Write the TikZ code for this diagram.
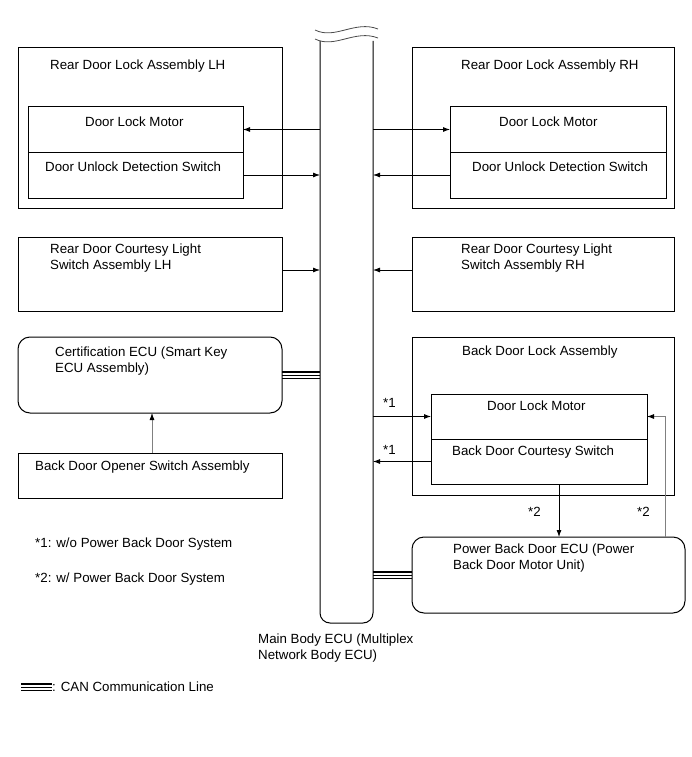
\documentclass[tikz,border=0pt]{standalone}
\usepackage{fontspec}
\setmainfont{Liberation Sans}
\usetikzlibrary{arrows.meta,calc}
\newcommand\mycan[2]{%
  \draw[line width=2.2pt,transform canvas={yshift=3.3pt}] #1 -- #2;
  \draw[line width=1pt] #1 -- #2;
  \draw[line width=1.4pt,transform canvas={yshift=-3.3pt}] #1 -- #2;}
\begin{document}
\begin{tikzpicture}[x=1pt,y=-1pt,
  box/.style={draw, line width=1pt, anchor=north west, inner sep=0pt, outer sep=0pt},
  rbox/.style={box, rounded corners=12pt},
  lbl/.style={anchor=west, inner sep=0pt, font=\fontsize{13.3}{16}\selectfont, align=left},
  arr/.style={line width=0.8pt, -{Latex[length=7pt,width=5pt]}},
  garr/.style={line width=0.8pt, draw=black!50, -{Latex[length=7pt,width=5pt,color=black]}}]
\useasboundingbox (0,0) rectangle (691,757);

% main bus
\node[inner sep=0pt, outer sep=0pt, minimum width=53pt, minimum height=581pt, anchor=north west] (bus) at (320,42) {};
\draw[line width=1pt, rounded corners=10pt] (320,41) -- (320,623) -- (373,623) -- (373,41);
\draw[line width=0.8pt, black!70] (315,30) .. controls (335,40) and (355,20) .. (378,29);
\draw[line width=0.8pt, black!70] (315,39) .. controls (335,49) and (355,29) .. (378,38);
\node[lbl] (busl) at (258,648) {Main Body ECU (Multiplex\\Network Body ECU)};

% rear door lock LH
\node[box, minimum width=264pt, minimum height=160pt] (rlh) at (18,48) {};
\node[lbl] (rlht) at (50,66) {Rear Door Lock Assembly LH};
\node[box, minimum width=215pt, minimum height=45pt] (lhm) at (28,107) {};
\node[box, minimum width=215pt, minimum height=46pt] (lhs) at (28,152) {};
\node[lbl] (lhmt) at (85,122) {Door Lock Motor};
\node[lbl] (lhst) at (45,167) {Door Unlock Detection Switch};
\draw[arr] (bus.west |- lhm.east) -- (lhm.east);
\draw[arr] (lhs.east) -- (bus.west |- lhs.east);

% rear door lock RH
\node[box, minimum width=262pt, minimum height=160pt] (rrh) at (412,48) {};
\node[lbl] (rrht) at (461,66) {Rear Door Lock Assembly RH};
\node[box, minimum width=216pt, minimum height=45pt] (rhm) at (450,107) {};
\node[box, minimum width=216pt, minimum height=46pt] (rhs) at (450,152) {};
\node[lbl] (rhmt) at (499,122) {Door Lock Motor};
\node[lbl] (rhst) at (472,167) {Door Unlock Detection Switch};
\draw[arr] (bus.east |- rhm.west) -- (rhm.west);
\draw[arr] (rhs.west) -- (bus.east |- rhs.west);

% courtesy light switches
\node[box, minimum width=264pt, minimum height=74pt] (lcl) at (18,237) {};
\node[lbl] (lclt) at (50,258) {Rear Door Courtesy Light\\Switch Assembly LH};
\node[box, minimum width=262pt, minimum height=74pt] (rcl) at (412,237) {};
\node[lbl] (rclt) at (461,258) {Rear Door Courtesy Light\\Switch Assembly RH};
\coordinate (lclp) at (282,270);
\coordinate (rclp) at (412,270);
\draw[arr] (lclp) -- (bus.west |- lclp);
\draw[arr] (rclp) -- (bus.east |- rclp);

% certification ECU
\node[rbox, minimum width=264pt, minimum height=76pt] (cert) at (18,337) {};
\node[lbl] (certt) at (55,361) {Certification ECU (Smart Key\\ECU Assembly)};
\mycan{(cert.east)}{(bus.west |- cert.east)}

% back door opener
\node[box, minimum width=264pt, minimum height=45pt] (open) at (18,453) {};
\node[lbl] (opent) at (35,467) {Back Door Opener Switch Assembly};
\coordinate (openp) at (152,453);
\draw[garr] (openp) -- (cert.south -| openp);

% back door lock assembly
\node[box, minimum width=262pt, minimum height=158pt] (bdl) at (412,337) {};
\node[lbl] (bdlt) at (462,352) {Back Door Lock Assembly};
\node[box, minimum width=216pt, minimum height=45pt] (bdm) at (431,394) {};
\node[box, minimum width=216pt, minimum height=45pt] (bds) at (431,439) {};
\node[lbl] (bdmt) at (487,406) {Door Lock Motor};
\node[lbl] (bdst) at (452,452) {Back Door Courtesy Switch};
\draw[arr] (bus.east |- bdm.west) -- (bdm.west);
\draw[arr] (bds.west) -- (bus.east |- bds.west);
\node[lbl] (s1a) at (383,403) {*1};
\node[lbl] (s1b) at (383,450) {*1};

% power back door ECU
\node[rbox, minimum width=273pt, minimum height=76pt] (pbd) at (412,537) {};
\node[lbl] (pbdt) at (453,558) {Power Back Door ECU (Power\\Back Door Motor Unit)};
\mycan{(pbd.west)}{(bus.east |- pbd.west)}
\coordinate (dnp) at (559,484);
\draw[arr] (dnp) -- (pbd.north -| dnp);
\coordinate (upp) at (665,537);
\draw[garr] (upp) |- (bdm.east);
\node[lbl] (s2a) at (528,512) {*2};
\node[lbl] (s2b) at (637,512) {*2};

% legend
\node[lbl] (leg1) at (35,544) {*1: w/o Power Back Door System};
\node[lbl] (leg2) at (35,579) {*2: w/ Power Back Door System};
\coordinate (canA) at (21,687);
\coordinate (canB) at (52,687);
\mycan{(canA)}{(canB)}
\node[lbl] (legc) at (52,687) {: CAN Communication Line};
\end{tikzpicture}
\end{document}
